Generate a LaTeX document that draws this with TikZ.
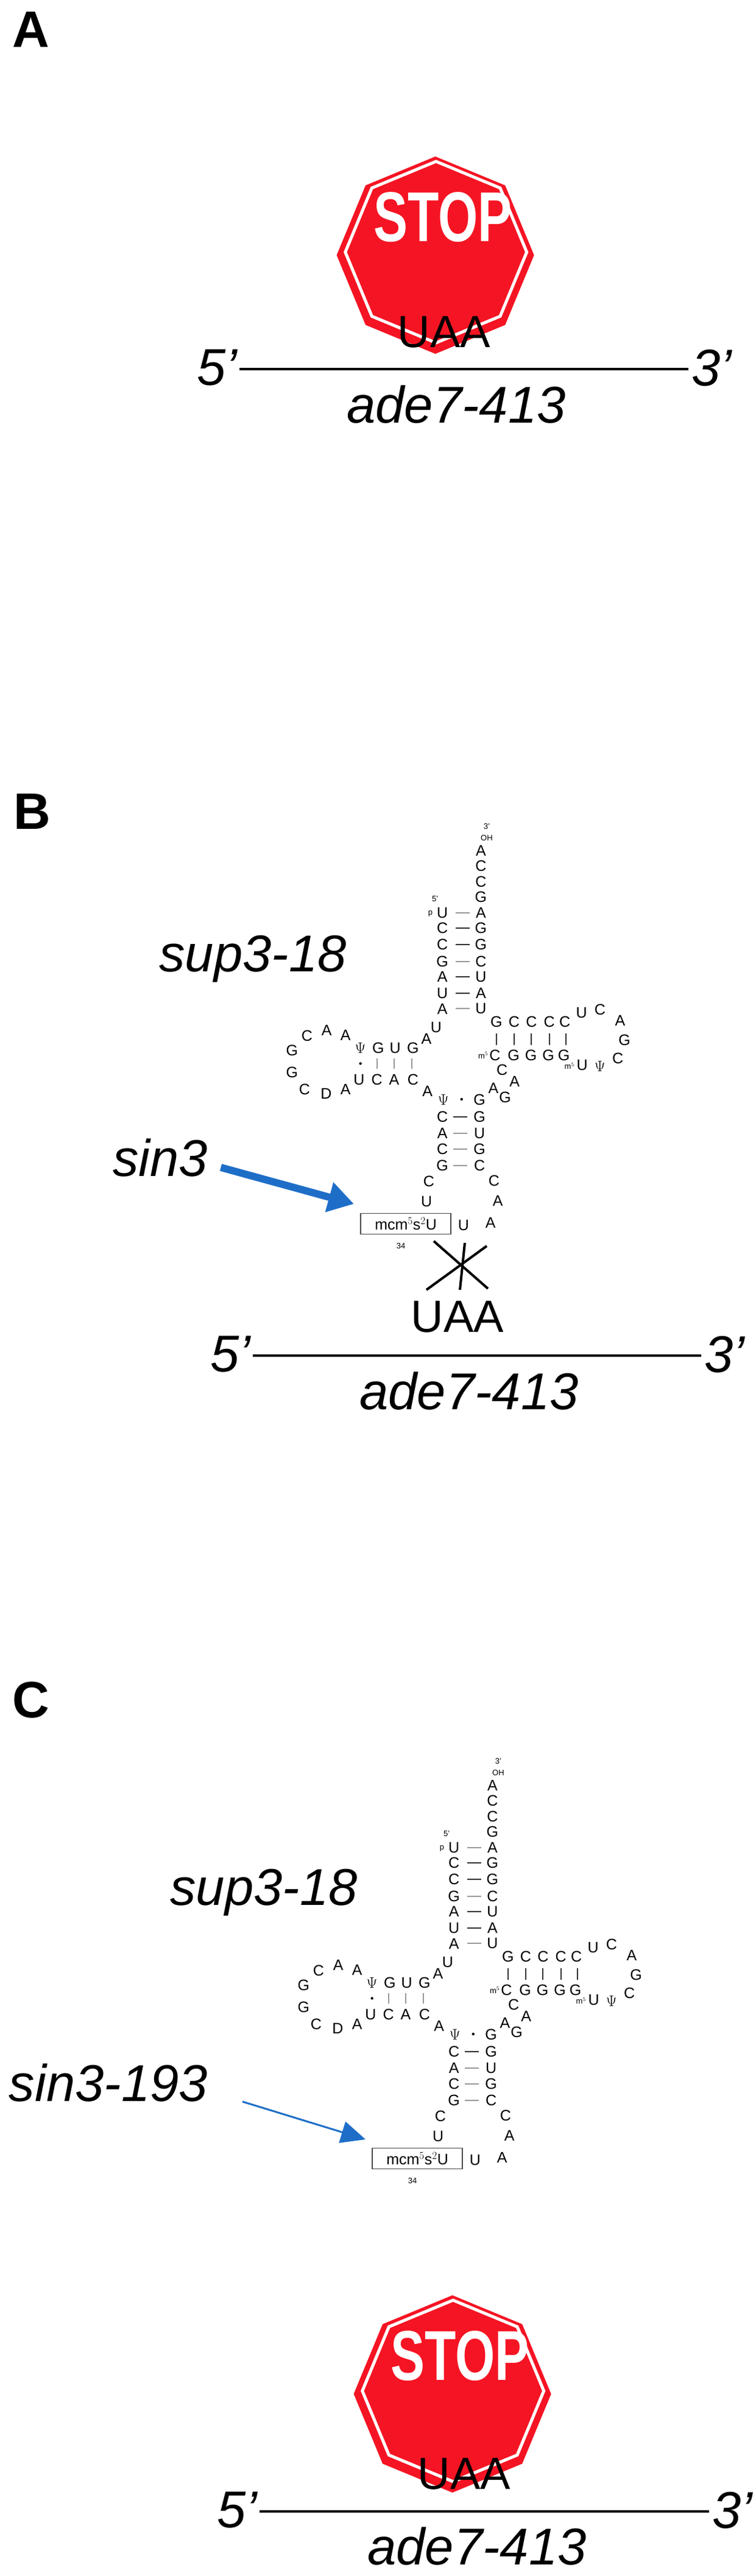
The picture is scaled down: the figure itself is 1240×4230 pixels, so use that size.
\documentclass[tikz,border=0pt]{standalone}
\usepackage{fontspec}
\setmainfont{Liberation Sans}
\usetikzlibrary{arrows.meta}
\definecolor{stopred}{RGB}{245,20,35}
\definecolor{arrblue}{RGB}{30,110,200}
\tikzset{
  panel/.style={font=\fontsize{84}{84}\selectfont\bfseries},
  lab/.style={font=\fontsize{85}{85}\selectfont\itshape},
  codon/.style={font=\fontsize{74}{74}\selectfont},
  nt/.style={font=\fontsize{25}{25}\selectfont,inner sep=0pt},
  sm/.style={font=\fontsize{13}{13}\selectfont,inner sep=0pt},
  darkbar/.style={line width=2pt,black!80},
  lightbar/.style={line width=2pt,black!40},
  mrna/.style={line width=4pt},
}
\newcommand{\stopsign}[2]{%
  \fill[stopred] (#1) ++(22.5:162) -- ++(112.5:124) -- ++(157.5:124) -- ++(202.5:124) -- ++(247.5:124) -- ++(292.5:124) -- ++(337.5:124) -- ++(22.5:124) -- cycle;
  \draw[white,line width=5pt] (#1) ++(22.5:149) -- ++(112.5:114) -- ++(157.5:114) -- ++(202.5:114) -- ++(247.5:114) -- ++(292.5:114) -- ++(337.5:114) -- ++(22.5:114) -- cycle;
  \node[white,inner sep=0pt,font=\fontsize{84}{84}\selectfont\bfseries] (#2) at (#1) {\scalebox{1}[1.38]{STOP}};}
\newcommand{\trna}{%
  \foreach \x/\y/\t [count=\i] in {
    998/230/A,998/270/C,998/310/C,998/350/G,998/390/A,998/430/G,998/472/G,998/515/C,998/555/U,998/597/A,998/637/U,
    918/390/U,918/430/C,918/472/C,918/515/G,918/555/A,918/597/U,918/637/A,
    905/685/U,885/715/A,
    748/738/$\Psi$,785/738/G,820/738/U,857/738/G,
    745/820/U,782/820/C,818/820/A,857/820/C,
    717/705/A,678/692/A,637/707/C,606/744/G,606/800/G,632/845/C,677/855/D,717/845/A,
    887/850/A,920/872/$\Psi$,995/872/G,
    918/915/C,918/957/A,918/998/C,918/1040/G,995/915/G,995/957/U,995/998/G,995/1040/C,
    890/1082/C,885/1133/U,962/1195/U,1018/1188/A,1033/1132/A,1025/1080/C,
    1030/670/G,1067/670/C,1103/670/C,1140/670/C,1172/670/C,1207/648/U,1245/640/C,1287/668/A,1296/717/G,1282/765/C,1245/785/$\Psi$,1208/782/U,
    1027/757/C,1066/757/G,1102/757/G,1138/757/G,1170/757/G,
    1042/795/C,1068/825/A,1024/842/A,1048/865/G}
    \node[nt] (n\i) at (\x,\y) {\t};
  \node[sm] (t3) at (1010,168) {3'};
  \node[sm] (toh) at (1010,198) {OH};
  \node[sm] (t5) at (903,355) {5'};
  \node[sm] (tp) at (893,392) {p};
  \node[sm,anchor=east] (tm1) at (1013,757) {m$^5$};
  \node[sm,anchor=east] (tm2) at (1192,785) {m$^5$};
  \node[sm] (t34) at (832,1248) {34};
  \node[draw,line width=1.2pt,black!70,text=black,minimum width=148pt,minimum height=34pt,inner sep=0pt,font=\fontsize{25}{25}\selectfont] (box) at (842,1190) {mcm$^5$s$^2$U};
  \foreach \y/\s in {390/lightbar,430/darkbar,472/darkbar,515/lightbar,555/darkbar,597/darkbar,637/lightbar}
    \draw[\s] (945,\y) -- (975,\y);
  \foreach \y/\s in {915/darkbar,957/lightbar,998/lightbar,1040/lightbar}
    \draw[\s] (940,\y) -- (970,\y);
  \foreach \x in {783,818,855} \draw[lightbar] (\x,765) -- (\x,792);
  \foreach \x in {1030,1067,1103,1140,1175} \draw[darkbar] (\x,700) -- (\x,730);
  \fill (748,778) circle (2.2pt);
  \fill (958,870) circle (2.2pt);
}
\begin{document}
\begin{tikzpicture}[x=1pt,y=-1pt]
\useasboundingbox (0,0) rectangle (1240,4230);
% Panel A
\node[panel] (pa) at (51,49) {A};
\stopsign{727,357}{sa}
\node[codon] (ua) at (729,545) {UAA};
\coordinate (a1) at (393,606); \coordinate (a2) at (1130,606);
\draw[mrna] (a1) -- (a2);
\node[lab,anchor=east] (a5) at (393,604) {5’};
\node[lab,anchor=west] (a3) at (1132,604) {3’};
\node[lab] (ag) at (749,664) {ade7-413};
% Panel B
\node[panel] (pb) at (53,1333) {B};
\begin{scope}[xshift=0pt,yshift=-1250pt,x=0.791pt,y=-0.638pt,name prefix=b-]
\trna
\end{scope}
\node[lab] (bsup) at (415,1575) {sup3-18};
\node[lab] (bsin) at (263,1901) {sin3};
\coordinate (bt) at (581,1977);
\draw[arrblue,line width=12pt,-{Triangle[length=42pt,width=48pt]}] (bsin.east)++(18,16) -- (bt);
\draw[line width=4pt] (712,2038) -- (801,2116);
\draw[line width=4pt] (700,2118) -- (799,2046);
\draw[line width=4pt] (763,2041) -- (755,2118);
\node[codon] (ub) at (751,2162) {UAA};
\coordinate (b1) at (415,2226); \coordinate (b2) at (1151,2226);
\draw[mrna] (b1) -- (b2);
\node[lab,anchor=east] (b5) at (415,2224) {5’};
\node[lab,anchor=west] (b3) at (1153,2224) {3’};
\node[lab] (bg) at (770,2284) {ade7-413};
% Panel C
\node[panel] (pc) at (51,2792) {C};
\begin{scope}[xshift=19pt,yshift=-2785pt,x=0.791pt,y=-0.638pt,name prefix=c-]
\trna
\end{scope}
\node[lab] (csup) at (433,3108) {sup3-18};
\node[lab] (csin) at (178,3420) {sin3-193};
\coordinate (cs) at (398,3451); \coordinate (ct) at (600,3513);
\draw[arrblue,line width=3pt,-{Triangle[length=40pt,width=36pt]}] (cs) -- (ct);
\stopsign{755,3869}{sc}
\node[codon] (uc) at (762,4062) {UAA};
\coordinate (c1) at (426,4124); \coordinate (c2) at (1164,4124);
\draw[mrna] (c1) -- (c2);
\node[lab,anchor=east] (c5) at (426,4122) {5’};
\node[lab,anchor=west] (c3) at (1166,4122) {3’};
\node[lab] (cg) at (783,4181) {ade7-413};
\end{tikzpicture}
\end{document}
